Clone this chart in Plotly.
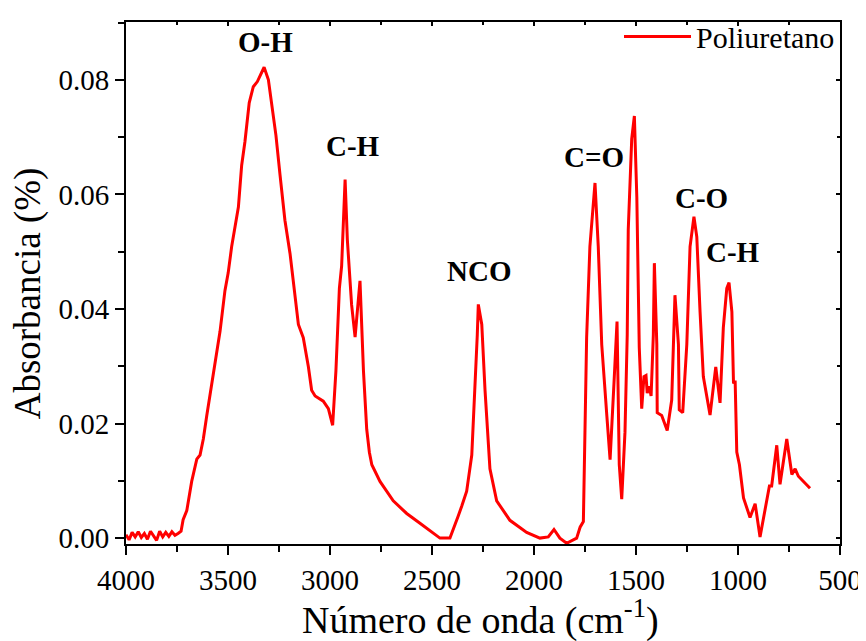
import plotly.graph_objects as go

# Wavenumber (cm^-1) and absorbance
wavenumber = [
    4000, 3985, 3970, 3955, 3940, 3925, 3910, 3895, 3880, 3865, 3850, 3835, 3820,
    3805, 3790, 3775, 3760, 3745, 3730, 3720, 3702, 3678, 3653, 3637, 3621, 3604,
    3580, 3564, 3539, 3515, 3499, 3482, 3449, 3433, 3417, 3396, 3376, 3356, 3323,
    3302, 3286, 3265, 3245, 3221, 3196, 3172, 3155, 3131, 3106, 3090, 3073, 3033,
    3008, 2987, 2971, 2954, 2943, 2926, 2915, 2894, 2877, 2853, 2836, 2820, 2807,
    2795, 2755, 2690, 2624, 2559, 2494, 2461, 2412, 2396, 2371, 2354, 2330, 2305,
    2289, 2278, 2273, 2256, 2240, 2216, 2183, 2118, 2036, 1971, 1930, 1902, 1873,
    1840, 1791, 1774, 1758, 1750, 1742, 1726, 1709, 1701, 1685, 1668, 1643, 1627,
    1608, 1593, 1582, 1570, 1554, 1543, 1538, 1521, 1508, 1496, 1484, 1472, 1461,
    1451, 1445, 1435, 1426, 1415, 1410, 1398, 1396, 1374, 1347, 1325, 1309, 1292,
    1288, 1271, 1251, 1235, 1216, 1202, 1186, 1170, 1137, 1109, 1088, 1072, 1055,
    1044, 1030, 1022, 1014, 1006, 993, 973, 941, 916, 892, 867, 846, 835, 810,
    794, 761, 736, 720, 704, 671, 647,
]
absorbance = [
    0.0006, -0.0003, 0.0010, 0.0002, 0.0011, 0.0001, 0.0008, -0.0002, 0.0012,
    0.0003, -0.0004, 0.0012, 0.0002, 0.0010, 0.0003, 0.0011, 0.0005, 0.0008,
    0.0012, 0.0032, 0.0048, 0.0099, 0.0138, 0.0145, 0.0173, 0.0214, 0.0270,
    0.0304, 0.0361, 0.0432, 0.0463, 0.0509, 0.0578, 0.0651, 0.0692, 0.0760,
    0.0788, 0.0797, 0.0822, 0.0800, 0.0760, 0.0703, 0.0634, 0.0555, 0.0497,
    0.0424, 0.0373, 0.0350, 0.0299, 0.0258, 0.0248, 0.0239, 0.0226, 0.0197,
    0.0292, 0.0436, 0.0475, 0.0626, 0.0521, 0.0407, 0.0351, 0.0449, 0.0292,
    0.0190, 0.0150, 0.0128, 0.0099, 0.0065, 0.0043, 0.0026, 0.0009, 0.0000,
    0.0000, 0.0014, 0.0039, 0.0056, 0.0082, 0.0145, 0.0258, 0.0355, 0.0408,
    0.0373, 0.0258, 0.0121, 0.0065, 0.0031, 0.0010, 0.0000, 0.0002, 0.0015,
    0.0000, -0.0009, 0.0000, 0.0019, 0.0029, 0.0185, 0.0350, 0.0509, 0.0595,
    0.0620, 0.0509, 0.0338, 0.0214, 0.0137, 0.0270, 0.0378, 0.0128, 0.0068,
    0.0185, 0.0355, 0.0538, 0.0697, 0.0737, 0.0595, 0.0333, 0.0226, 0.0282,
    0.0284, 0.0253, 0.0265, 0.0248, 0.0355, 0.0480, 0.0338, 0.0219, 0.0214,
    0.0188, 0.0241, 0.0424, 0.0338, 0.0224, 0.0219, 0.0338, 0.0509, 0.0561,
    0.0526, 0.0395, 0.0282, 0.0215, 0.0299, 0.0236, 0.0367, 0.0436, 0.0446,
    0.0395, 0.0270, 0.0275, 0.0150, 0.0128, 0.0070, 0.0036, 0.0060, 0.0002,
    0.0053, 0.0091, 0.0091, 0.0162, 0.0094, 0.0173, 0.0111, 0.0121, 0.0108,
    0.0096, 0.0087,
]

# Band labels and their positions
band_labels = ["O-H", "C-H", "NCO", "C=O", "C-O", "C-H"]
band_x = [3314, 2887, 2270, 1706, 1181, 1025]
band_y = [0.0866, 0.0685, 0.0466, 0.0666, 0.0594, 0.0499]

x_ticks = [4000, 3500, 3000, 2500, 2000, 1500, 1000, 500]
y_ticks = [0.00, 0.02, 0.04, 0.06, 0.08]
x_range = [4000, 500]
y_range = [-0.00103, 0.0901]

FONT = "Liberation Serif, Times New Roman, serif"

fig = go.Figure()
fig.add_trace(go.Scatter(
    x=wavenumber, y=absorbance, mode="lines", name="Poliuretano",
    line=dict(color="#ff0000", width=3),
))
# invisible copy on the mirrored (top/right) axes so their inside ticks are drawn
fig.add_trace(go.Scatter(
    x=wavenumber, y=absorbance, mode="lines", xaxis="x2", yaxis="y2",
    line=dict(color="rgba(0,0,0,0)", width=0), showlegend=False, hoverinfo="skip",
))

for t, xv, yv in zip(band_labels, band_x, band_y):
    fig.add_annotation(x=xv, y=yv, text=f"<b>{t}</b>", showarrow=False,
                       font=dict(family=FONT, size=29, color="black"),
                       xanchor="center", yanchor="middle")

# axis titles
fig.add_annotation(xref="paper", yref="paper", x=0.497, y=-0.1405,
                   text="Número de onda (cm<sup>-1</sup>)", showarrow=False,
                   font=dict(family=FONT, size=38, color="black"),
                   xanchor="center", yanchor="middle")
fig.add_annotation(xref="paper", yref="paper", x=-0.136, y=0.48,
                   text="Absorbancia (%)", showarrow=False, textangle=-90,
                   font=dict(family=FONT, size=37, color="black"),
                   xanchor="center", yanchor="middle")

axis_common = dict(
    showline=True, linecolor="black", linewidth=2,
    ticks="outside", ticklen=9, tickwidth=2, tickcolor="black",
    showgrid=False, zeroline=False, automargin=False,
    tickfont=dict(family=FONT, size=29, color="black"),
)

fig.update_layout(
    xaxis=dict(
        range=x_range, tickvals=x_ticks, ticktext=[str(v) for v in x_ticks],
        minor=dict(ticks="outside", ticklen=6, tickwidth=2, tickcolor="black", dtick=250, showgrid=False),
        **axis_common,
    ),
    yaxis=dict(
        range=y_range, tickvals=y_ticks, ticktext=[f"{v:.2f}" for v in y_ticks],
        minor=dict(ticks="outside", ticklen=6, tickwidth=2, tickcolor="black", dtick=0.01, showgrid=False),
        **axis_common,
    ),
    xaxis2=dict(
        overlaying="x", side="top", range=x_range, tickvals=x_ticks, showticklabels=False,
        showline=True, linecolor="black", linewidth=2, ticks="inside", ticklen=4, tickwidth=1.5,
        tickcolor="black", showgrid=False, zeroline=False, automargin=False,
        minor=dict(ticks="inside", ticklen=3, tickwidth=1.5, tickcolor="black", dtick=250, showgrid=False),
    ),
    yaxis2=dict(
        overlaying="y", side="right", range=y_range, tickvals=y_ticks, showticklabels=False,
        showline=True, linecolor="black", linewidth=2, ticks="inside", ticklen=4, tickwidth=1.5,
        tickcolor="black", showgrid=False, zeroline=False, automargin=False,
        minor=dict(ticks="inside", ticklen=3, tickwidth=1.5, tickcolor="black", dtick=0.01, showgrid=False),
    ),
    # the page body adds an 8 px offset, so the figure is 8 px smaller each way
    width=858, height=633,
    margin=dict(l=118, r=26, t=3, b=97),
    paper_bgcolor="white", plot_bgcolor="white",
    showlegend=True,
    legend=dict(x=1, y=1.022, xanchor="right", yanchor="top", bgcolor="rgba(0,0,0,0)",
                font=dict(family=FONT, size=30, color="black"), itemwidth=67,
                borderwidth=0),
)

fig.write_html("out.html")
